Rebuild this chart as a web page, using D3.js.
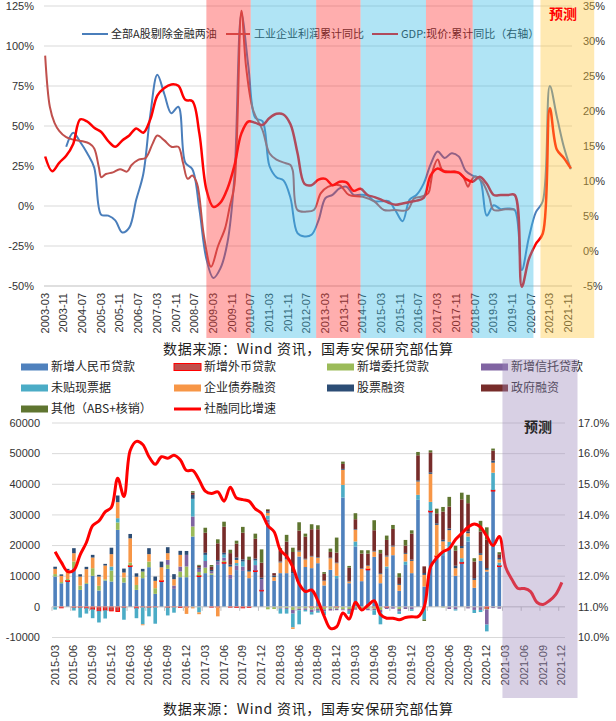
<!DOCTYPE html>
<html><head><meta charset="utf-8">
<script src="https://cdn.jsdelivr.net/npm/d3@7"></script>
<style>
body{margin:0;background:#fff}
svg{display:block}
text{font-family:"Liberation Sans","Noto Sans CJK SC",sans-serif}
.cjk{font-family:"Noto Sans CJK SC","Liberation Sans",sans-serif}
</style>
</head><body>
<svg id="c" width="616" height="721"></svg>
<script>
// ---------------- DATA: top chart ----------------
const gdpStart = "2003-03"; // quarterly, right axis (%)
const gdpValues = [13.5,11.4,12.6,13.6, 15.3,18.8,18.5,17.6, 17.0,15.7,14.9,15.8, 16.5,17.5,16.9,18.8,
  22.2,23.3,23.8,23.6, 21.6,21.4,16.8,8.8, 6.3,6.9,8.9,12.2, 16.8,18.5,18.3,18.0,
  19.0,19.6,19.5,18.1, 14.0,9.6,9.4,10.2, 10.3,9.4,9.9,9.8, 8.6,8.9,8.0,7.7,
  7.3,6.9,6.6,6.8, 7.0,7.2,7.6,10.8, 11.8,11.3,11.3,11.2, 10.3,9.9,10.6,9.6,
  8.0,8.0,8.0,8.0, -5.1,-1.2,1.0,2.5, 20.4,14.5,13.3,11.8];
const aShareStart = "2003-12"; // quarterly, left axis (%)
const aShareValues = [37, 45.8,40,33,24, -5.5,-6,-9,-16.5, -13.5,4,20,57, 82,70,58,62,
  27,23,-2,-33, -45,-39,-23,18, 120,87,55,53, 25,18,16,5, -17,-19,-18,-9,
  5,7,11,12, 7,7,6.5,3, 3,3,-3,-9.5, 4,7,14,26, 34,30,33,31, 22,19,17,-6,
  0.5,-2,-1.5,-2.5, -40,-20,-4,3, 75,56,37,23];
const profitDates = ["2003-03","2003-05","2003-07","2003-09","2003-12","2004-03","2004-07","2004-10","2004-12",
  "2005-02","2005-03","2005-05","2005-08","2005-11","2006-02","2006-04","2006-07","2006-10","2007-01","2007-03",
  "2007-06","2007-09","2007-12","2008-02","2008-04","2008-06","2008-08","2008-09","2008-11","2009-02","2009-05",
  "2009-08","2009-10","2009-12","2010-03","2010-05","2010-08","2010-12","2011-03","2011-06","2011-10","2011-12",
  "2012-01","2012-03","2012-07","2012-10","2013-01","2013-04","2013-09","2014-01","2014-07","2014-12","2015-04",
  "2015-09","2016-02","2016-05","2016-08","2016-11","2016-12","2017-01","2017-03","2017-05","2017-08","2017-11",
  "2018-02","2018-04","2018-05","2018-07","2018-10","2019-01","2019-03","2019-08","2019-12"];
const profitValues = [94,62,52,47,43,41.5,40.5,39,36,
  24,18,20,21,23,21.5,25.6,29,30,39,44,
  41,37,37,27,17,19,14,6,-19,-38,-25,
  -14,-0.4,13,122,87,60,47.5,33,29,26.7,25.6,
  22,-2.5,-3.5,-2.5,8,12,13,6.9,5.8,2.7,-2.5,
  -2.5,-2.5,4.8,5.8,8,14,22.5,29,22.5,21.5,21.5,
  18,12,15,18.5,15.2,5.8,-2.5,-2,-2.2];
const periodStart = ["2008-12","2010-07","2012-11","2014-06","2016-10","2018-06","2020-11"];
const periodEnd   = ["2010-07","2012-11","2014-06","2016-10","2018-06","2020-08","2022-10"];
const periodKind  = ["down","up","down","up","down","up","fcst"];
const topLeftTicks = [-50,-25,0,25,50,75,100,125];
const topRightTicks = [-5,0,5,10,15,20,25,30,35];

// ---------------- DATA: bottom chart ----------------
const tsfGrowth = [12.8,12.45,12.15,12.2,12.7,13.1,13.65,13.8,14.1,14.25,
 15.2,14.6,16.1,16.4,16.3,15.9,15.65,15.9,15.85,15.95,
 15.8,15.45,15.45,15.15,14.78,14.7,14.75,14.45,14.9,14.55,
 14.5,14.45,14.2,14.05,13.65,13.45,12.85,12.65,12.3,11.75,
 11.5,11.55,11.2,10.7,10.3,10.35,10.8,10.6,11.15,10.9,
 11.05,11.2,10.75,10.63,10.63,10.58,10.65,10.68,10.68,11.0,
 12.3,12.6,12.8,12.9,13.2,13.4,13.6,13.7,13.6,13.3,
 13.0,13.3,12.3,11.9,11.6,11.6,11.5,11.15,11.08,11.2,
 11.4,11.8];
const loansRMB = [9900,7700,8300,12600,5540,7500,10120,5330,8590,8270,
 25130,7940,13160,5540,9360,12950,4240,8270,12400,5870,
 9680,9680,22960,9900,11000,10450,13710,14250,9140,12000,
 11750,9360,11530,5220,27500,8500,11000,11000,11000,16430,
 13000,12630,14250,6990,12080,9360,35690,7720,19690,8380,
 12080,16320,7720,12630,16860,5220,13700,11000,34920,6630,
 31000,16320,16870,19040,10120,14250,21330,6200,15020,11530,
 37800,13160];
const loansFX = [0,-300,300,-200,-200,-400,-800,-1300,-1100,-1300,
 -1500,-200,300,-400,-100,-200,-100,300,-200,-100,
 -200,-100,0,300,0,-100,-100,300,-100,-200,
 -300,-200,300,200,0,0,0,0,0,0,
 0,-100,-100,-100,0,-100,0,0,0,0,
 300,-100,0,-200,0,0,0,0,0,0,
 300,300,0,0,0,300,0,0,0,-500,
 300,300];
const entrusted = [800,400,500,2200,1400,300,2500,1530,400,3590,
 2420,1630,1000,1600,2170,1850,1850,0,1310,0,
 1850,3480,3270,1200,1800,500,0,500,0,0,
 0,0,0,0,-800,-700,-300,-400,-1000,-600,
 -500,-800,-600,-700,-600,-500,-800,-700,-500,-500,
 -600,-500,-1000,0,0,-700,0,0,0,-300,
 0,0,-200,0,0,0,0,0,0,-300,
 0,0];
const trust = [0,0,0,0,0,0,0,0,0,0,
 0,0,0,0,0,0,0,0,1630,1090,
 1630,3800,3260,1000,2160,600,1090,1000,1300,1500,
 1400,0,1800,3600,1000,0,-300,-300,-1200,-500,
 -500,-800,-600,-700,-600,-500,-300,-600,-400,0,
 -500,-500,-700,-500,-600,-800,-700,-800,0,-300,
 0,0,0,-700,-800,0,-500,-1000,-1000,-5000,
 -400,-600];
const bills = [-900,0,0,-1000,-3300,-1800,-2900,-3800,-2700,1300,
 1390,-4000,0,-3300,-5600,-2900,-5400,0,-2600,-1800,
 0,0,5770,-1800,2000,0,0,1000,0,800,
 1650,0,1500,0,1300,0,-1600,-1500,-4500,-4600,
 -500,-800,-600,-1200,0,760,4110,-1000,1650,0,
 0,-1500,-4000,530,0,-800,1100,-500,1640,-3500,
 2960,0,1500,2170,-400,1330,1630,-1000,-700,-2200,
 5680,1000];
const bonds = [1700,2000,2800,2700,2940,4500,3480,3040,4500,4040,
 5220,1630,7900,2700,-300,2400,2400,4350,2180,2070,
 3810,-2200,-500,-600,0,0,-3000,0,2700,1000,
 0,2170,0,0,900,1200,3500,4500,-500,1630,
 2500,3800,1800,1420,3800,4130,4920,550,3790,4020,
 1000,1740,2950,3270,2830,1960,2500,4020,4350,3810,
 9140,10140,3000,3820,2500,3270,1080,2610,1950,550,
 3260,1000];
const equity = [700,500,500,1650,750,760,870,550,540,2100,
 2180,1290,1430,1100,870,1950,1410,1850,1950,1640,
 1310,1280,1300,400,700,500,500,600,600,800,
 700,500,600,500,500,500,300,400,400,300,
 200,200,200,200,200,200,300,200,200,200,
 200,200,300,300,300,300,300,400,400,600,
 500,500,500,540,800,700,540,550,550,600,
 700,500];
const govFin = [0,0,0,0,0,0,0,0,0,0, 0,0,0,0,0,0,0,0,0,0, 0,0,
 700,600,6530,1100,5440,8500,3800,4500,
 8700,3270,6500,4890,500,800,3600,5400,6500,6520,
 7200,8700,9080,2180,1850,3270,1630,4350,3270,4790,
 3800,6740,6530,5110,5440,2180,2390,8480,8160,2170,
 6520,3270,9210,7150,4900,15230,9260,5440,7060,9220,
 3260,1200];
const otherFin = [0,0,0,0,0,0,0,0,0,0, 0,0,0,0,0,0,0,0,0,0, 0,0,
 500,300,1630,500,1300,1640,1100,1000,
 1900,1080,1660,4350,200,0,750,2200,1400,2730,
 1000,1630,1300,550,1090,4890,760,540,1960,1090,
 1100,3270,1100,1420,1300,1310,1850,1080,1080,-500,
 660,1520,1520,3170,1630,2180,2720,1080,3490,4050,
 660,680];
const barNames = ["新增人民币贷款","新增外币贷款","新增委托贷款","新增信托贷款","未贴现票据","企业债券融资","股票融资","政府融资","其他（ABS+核销）"];
const barColors = ["#4f81bd","#c0504d","#9bbb59","#8064a2","#4bacc6","#f79646","#2c4d75","#772c2a","#5f7530"];
const barSeries = [loansRMB,loansFX,entrusted,trust,bills,bonds,equity,govFin,otherFin];
const botLeftTicks = [-10000,0,10000,20000,30000,40000,50000,60000];
const botRightTicks = [10,11,12,13,14,15,16,17];
const footnote = "数据来源：Wind 资讯，国寿安保研究部估算";

// ---------------- helpers ----------------
const svg = d3.select("#c");
const pm = s => { const [y,m] = s.split("-").map(Number); return (y-2003)*12 + (m-3); };
const fmtM = (m, base) => { const t = base*12 + 2 + m; const y = Math.floor(t/12); const mo = t%12 + 1; return y + "-" + String(mo).padStart(2,"0"); };
const stepDates = (start, n, step) => d3.range(n).map(i => fmtM(pm(start) + i*step, 2003));

// ================= TOP CHART =================
const tx = d3.scaleLinear().domain([-0.5, 225.5]).range([44, 572]);
const tyL = d3.scaleLinear().domain([-50,125]).range([286, 6]);
const tyR = d3.scaleLinear().domain([-5,35]).range([286, 6]);
const gTop = svg.append("g");

gTop.selectAll("line.grid").data(topLeftTicks.filter(d=>d>-50)).join("line")
  .attr("x1",44).attr("x2",572).attr("y1",d=>tyL(d)).attr("y2",d=>tyL(d))
  .attr("stroke","#d9d9d9").attr("stroke-width",1);
gTop.append("line").attr("x1",44).attr("x2",572).attr("y1",tyL(-50)).attr("y2",tyL(-50)).attr("stroke","#bfbfbf");

gTop.selectAll("text.yl").data(topLeftTicks).join("text")
  .attr("x",34).attr("y",d=>tyL(d)).attr("dy","0.35em").attr("text-anchor","end")
  .attr("font-size",11).attr("fill","#333").text(d=>d+"%");
gTop.selectAll("text.yr").data(topRightTicks).join("text")
  .attr("x",583).attr("y",d=>tyR(d)).attr("dy","0.35em").attr("text-anchor","start")
  .attr("font-size",11).attr("fill","#333").text(d=>d+"%");

const topLabels = d3.range(0, 226, 8);
gTop.selectAll("text.xl").data(topLabels).join("text")
  .attr("transform",m=>`translate(${tx(m)+3.5},293) rotate(-90)`)
  .attr("text-anchor","end").attr("font-size",11).attr("fill","#333")
  .text(m=>fmtM(m,2003));

const lineT = (ys) => d3.line().x(d=>tx(d.m)).y(d=>ys(d.v)).curve(d3.curveCatmullRom.alpha(0.5));
const aShare = stepDates(aShareStart, aShareValues.length, 3).map((d,i)=>({m:pm(d), v:aShareValues[i]}));
const profit = profitDates.map((d,i)=>({m:pm(d), v:profitValues[i]}));
const gdp = stepDates(gdpStart, gdpValues.length, 3).map((d,i)=>({m:pm(d), v:gdpValues[i]}));
gTop.append("path").datum(aShare).attr("d",lineT(tyL)).attr("fill","none").attr("stroke","#4a7ebb").attr("stroke-width",2);
gTop.append("path").datum(profit).attr("d",lineT(tyL)).attr("fill","none").attr("stroke","#c0504d").attr("stroke-width",2);
gTop.append("path").datum(gdp).attr("d",lineT(tyR)).attr("fill","none").attr("stroke","#ff0000").attr("stroke-width",2.5);

const topLegend = [
  {x1:82,x2:108,tx:111,c:"#4a7ebb",t:"全部A股剔除金融两油"},
  {x1:226,x2:250,tx:254,c:"#c0504d",t:"工业企业利润累计同比"},
  {x1:372,x2:398,tx:401,c:"#ff0000",t:"GDP:现价:累计同比（右轴）"}];
const lg = gTop.selectAll("g.lg").data(topLegend).join("g");
lg.append("line").attr("x1",d=>d.x1).attr("x2",d=>d.x2).attr("y1",34).attr("y2",34).attr("stroke",d=>d.c).attr("stroke-width",2);
lg.append("text").attr("class","cjk").attr("x",d=>d.tx).attr("y",34).attr("dy","0.35em").attr("font-size",11).attr("fill","#262626").text(d=>d.t);

const bandFill = {down:"#ff3434", up:"#39bbe6", fcst:"#ffc83e"};
gTop.selectAll("rect.band").data(periodStart).join("rect")
  .attr("x",(d,i)=>tx(pm(d))).attr("width",(d,i)=>tx(pm(periodEnd[i]))-tx(pm(d)))
  .attr("y",0).attr("height",338)
  .attr("fill",(d,i)=>bandFill[periodKind[i]]).attr("fill-opacity",0.4);

gTop.append("text").attr("class","cjk").attr("x",563).attr("y",14).attr("dy","0.35em").attr("text-anchor","middle")
  .attr("font-size",14).attr("font-weight","bold").attr("fill","#ff0000").text("预测");

svg.append("text").attr("class","cjk").attr("x",163).attr("y",349).attr("dy","0.35em")
  .attr("font-size",14).attr("fill","#222").attr("textLength",290).attr("lengthAdjust","spacing").text(footnote);

// ================= BOTTOM CHART =================
const bx = d3.scaleLinear().domain([-0.5, 81.5]).range([52, 565]);
const byL = d3.scaleLinear().domain([-10000,60000]).range([637.5, 423]);
const byR = d3.scaleLinear().domain([10,17]).range([637.5, 423]);
const gBot = svg.append("g");

gBot.selectAll("line.grid").data(botLeftTicks.filter(d=>d!==0)).join("line")
  .attr("x1",52).attr("x2",565).attr("y1",d=>byL(d)).attr("y2",d=>byL(d))
  .attr("stroke","#d9d9d9");
gBot.selectAll("text.yl").data(botLeftTicks).join("text")
  .attr("x",40).attr("y",d=>byL(d)).attr("dy","0.35em").attr("text-anchor","end")
  .attr("font-size",11).attr("fill","#333").text(d=>d);
gBot.selectAll("text.yr").data(botRightTicks).join("text")
  .attr("x",578).attr("y",d=>byR(d)).attr("dy","0.35em").attr("text-anchor","start")
  .attr("font-size",11).attr("fill","#333").text(d=>d.toFixed(1)+"%");

const rows = d3.range(loansRMB.length).map(i => { const r = {i}; barSeries.forEach((s,k)=>r[k]=s[i]); return r; });
const stack = d3.stack().keys(d3.range(barSeries.length)).offset(d3.stackOffsetDiverging)(rows);
const bw = 3.6;
stack.forEach((layer,k) => {
  gBot.append("g").selectAll("rect").data(layer.filter(d=>d[1]!==d[0])).join("rect")
    .attr("x",d=>bx(d.data.i)-bw/2).attr("width",bw)
    .attr("y",d=>byL(Math.max(d[0],d[1]))).attr("height",d=>Math.abs(byL(d[0])-byL(d[1])))
    .attr("fill",barColors[k])
    .attr("stroke",k===1?"#ff0000":"none").attr("stroke-width",k===1?1:0);
});

const y0 = byL(0);
gBot.append("line").attr("x1",52).attr("x2",565).attr("y1",y0).attr("y2",y0).attr("stroke","#bfbfbf");
gBot.selectAll("line.tk").data(d3.range(-0.5, 82, 3)).join("line")
  .attr("x1",d=>bx(d)).attr("x2",d=>bx(d)).attr("y1",y0).attr("y2",y0+4).attr("stroke","#bfbfbf");

const botMonths = d3.range(tsfGrowth.length);
gBot.selectAll("text.xl").data(d3.range(0, 82, 3)).join("text")
  .attr("transform",i=>`translate(${bx(i)+3.5},645) rotate(-90)`)
  .attr("text-anchor","end").attr("font-size",11).attr("fill","#333")
  .text(i=>fmtM(i,2015));

gBot.append("path").datum(botMonths).attr("d",d3.line().x(i=>bx(i)).y(i=>byR(tsfGrowth[i])).curve(d3.curveCatmullRom.alpha(0.5)))
  .attr("fill","none").attr("stroke","#ff0000").attr("stroke-width",3);

const legCols = [21,174,327,481], legRows = [367,388,409];
const legItems = barNames.map((n,k)=>({n,c:barColors[k],k}));
legItems.push({n:"社融同比增速", c:"#ff0000", k:9, line:true});
legItems.forEach((d,j) => {
  const x = legCols[j%4], y = legRows[Math.floor(j/4)];
  if (d.line) gBot.append("line").attr("x1",x).attr("x2",x+27).attr("y1",y).attr("y2",y).attr("stroke",d.c).attr("stroke-width",3);
  else gBot.append("rect").attr("x",x).attr("y",y-3.5).attr("width",27).attr("height",7).attr("fill",d.c)
      .attr("stroke",d.k===1?"#ff0000":"none");
  gBot.append("text").attr("class","cjk").attr("x",x+30).attr("y",y).attr("dy","0.35em").attr("font-size",12).attr("fill","#262626").text(d.n);
});

gBot.append("rect").attr("x",bx(71.5)).attr("width",bx(83.5)-bx(71.5)).attr("y",359).attr("height",339)
  .attr("fill","#9d89bb").attr("fill-opacity",0.4);
gBot.append("text").attr("class","cjk").attr("x",538).attr("y",427).attr("dy","0.35em").attr("text-anchor","middle")
  .attr("font-size",14).attr("font-weight","bold").attr("fill","#262626").text("预测");

svg.append("text").attr("class","cjk").attr("x",163).attr("y",709).attr("dy","0.35em")
  .attr("font-size",14).attr("fill","#222").attr("textLength",290).attr("lengthAdjust","spacing").text(footnote);
</script>
</body></html>
